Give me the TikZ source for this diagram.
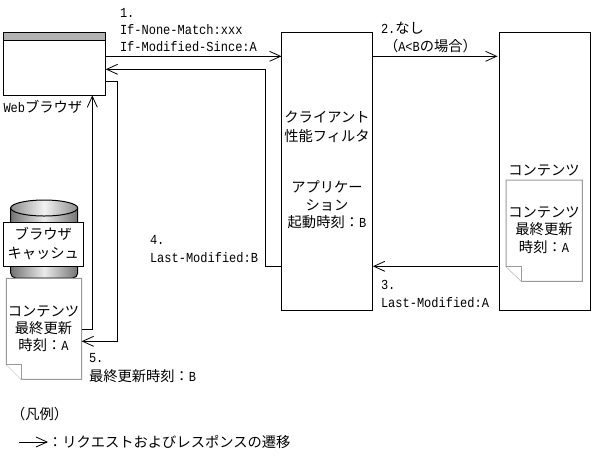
\documentclass[tikz,border=0pt]{standalone}
\usepackage{fontspec}
\setmainfont[FakeStretch=0.87,Scale=1.15]{Liberation Mono}
\newfontfamily\jp[Scale=1.19]{Noto Sans CJK JP}
\newcommand{\J}[1]{{\jp #1}}
\usetikzlibrary{arrows.meta,positioning}
\tikzset{
  box/.style={draw=black,line width=1pt,fill=white,inner sep=0pt,outer sep=0pt},
  doc/.style={draw=black!40,line width=1pt,fill=white},
  conn/.style={draw=black,line width=1pt,-{Straight Barb[length=11pt,width=10pt,line width=0.8pt]}},
  plain/.style={draw=black,line width=1pt},
  lbl/.style={inner sep=0pt,outer sep=0pt,font=\fontsize{12}{17}\selectfont,text=black},
  lleft/.style={lbl,anchor=west,align=left},
  lmid/.style={lbl,anchor=center,align=center}
}
\begin{document}
\begin{tikzpicture}[x=1pt,y=-1pt]
\useasboundingbox (0,0) rectangle (593,459);
\fill[white] (0,0) rectangle (593,459);
% boxes
\node[box,minimum width=102.4pt,minimum height=63pt,anchor=north west] (browser) at (3.3,32.3) {};
\fill[black!30] (3.3,32.3) rectangle (105.7,40);
\draw[plain] (3.3,40) -- (105.7,40);
\draw[plain] (3.3,32.3) rectangle (105.7,95.3);
\node[box,minimum width=90.8pt,minimum height=277.5pt,anchor=north west] (client) at (281.5,32.5) {};
\node[box,minimum width=91.7pt,minimum height=277.5pt,anchor=north west] (content) at (499,32.5) {};
% right document
\draw[doc] (506,180) -- (582.3,180) -- (582.3,281.3) -- (521.5,281.3) -- (506,266.3) -- cycle;
\draw[doc] (506,266.3) -- (521.5,266.3) -- (521.5,281.3);
% cylinder
\shade[left color=black!55,right color=black!55,middle color=black!8,draw=black,line width=1pt]
  (10.7,208) -- (10.7,273) arc[start angle=180,end angle=90,x radius=5,y radius=5] -- (72.7,278)
  arc[start angle=90,end angle=0,x radius=5,y radius=5] -- (77.7,208) -- cycle;
\shade[left color=black!45,right color=black!45,middle color=black!5,draw=black,line width=1pt]
  (44.2,208) ellipse[x radius=33.5,y radius=8];
\node[box,minimum width=80pt,minimum height=44.4pt,anchor=north west] (cache) at (3.3,222.3) {};
% left document
\draw[doc] (6.3,278.3) -- (81.7,278.3) -- (81.7,379.3) -- (21.3,379.3) -- (6.3,364.3) -- cycle;
\draw[doc] (6.3,364.3) -- (21.3,364.3) -- (21.3,379.3);
\coordinate (leftdocA) at (81.7,329.3);
\coordinate (leftdocB) at (81.7,341.3);
% connectors
\coordinate (b1) at (105.7,56.3);
\coordinate (c1) at (281.5,56.3);
\coordinate (c2) at (372.3,56.3);
\coordinate (d2) at (497.5,56.3);
\coordinate (d3) at (498,266.3);
\coordinate (c3) at (372.9,266.3);
\coordinate (c4) at (281.5,266.3);
\coordinate (b4) at (105.7,69.3);
\coordinate (b5) at (105.7,81.3);
\coordinate (bup) at (92.3,95.3);
\draw[conn] (b1) -- (c1);
\draw[conn] (c2) -- (d2);
\draw[conn] (d3) -- (c3);
\draw[conn] (c4) -- (265.7,266.3) -- (265.7,69.3) -- (b4);
\draw[conn] (leftdocA) -- (92.3,329.3) -- (bup);
\draw[conn] (b5) -- (117.3,81.3) -- (117.3,341.3) -- (leftdocB);
% labels
\node[lleft] (t1) at (120,13) {1.};
\node[lleft] (t1a) at (120,29.5) {If-None-Match:xxx};
\node[lleft] (t1b) at (120,46.5) {If-Modified-Since:A};
\node[lleft] (web) at (3.5,107) {Web\J{ブラウザ}};
\node[lmid] (cl1) at (327,117) {\J{クライアント}};
\node[lmid] (cl2) at (327,136) {\J{性能フィルタ}};
\node[lmid] (cl3) at (327,187) {\J{アプリケー}};
\node[lmid] (cl4) at (327,205) {\J{ション}};
\node[lmid] (cl5) at (327,222) {\J{起動時刻：}B};
\node[lleft] (t2) at (381,28) {2.\J{なし}};
\node[lleft] (t2a) at (384,46) {\J{（}A<B\J{の場合）}};
\node[lleft] (t3) at (381,285) {3.};
\node[lleft] (t3a) at (381,303) {Last-Modified:A};
\node[lleft] (t4) at (150,240) {4.};
\node[lleft] (t4a) at (150,257.5) {Last-Modified:B};
\node[lleft] (t5) at (89,358) {5.};
\node[lleft] (t5a) at (89,376) {\J{最終更新時刻：}B};
\node[lmid] (ca1) at (43.3,234) {\J{ブラウザ}};
\node[lmid] (ca2) at (43.3,253) {\J{キャッシュ}};
\node[lmid] (ld1) at (43.5,311) {\J{コンテンツ}};
\node[lmid] (ld2) at (43.5,328) {\J{最終更新}};
\node[lmid] (ld3) at (43.5,345.5) {\J{時刻：}A};
\node[lmid] (rl) at (544,170) {\J{コンテンツ}};
\node[lmid] (rd1) at (544,212) {\J{コンテンツ}};
\node[lmid] (rd2) at (544,229.5) {\J{最終更新}};
\node[lmid] (rd3) at (544,247) {\J{時刻：}A};
\node[lleft] (lg) at (11,414) {\J{（凡例）}};
\coordinate (lgA) at (19,442);
\node[lleft] (lgt) at (48,442) {\J{：リクエストおよびレスポンスの遷移}};
\draw[conn] (lgA) -- (lgt.west);
\end{tikzpicture}
\end{document}
